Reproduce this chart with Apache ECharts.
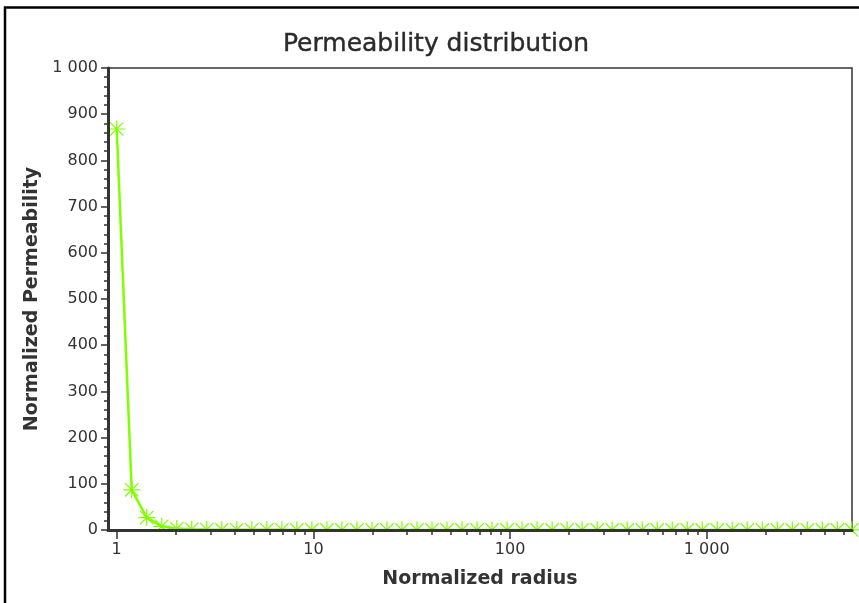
<!DOCTYPE html>
<html>
<head>
<meta charset="utf-8">
<script src="https://cdn.jsdelivr.net/npm/echarts@6/dist/echarts.min.js"></script>
<style>
html,body{margin:0;padding:0;background:#fff;}
#chart{width:859px;height:603px;}
</style>
</head>
<body>
<div id="chart"></div>
<script>
// ---- data ----
const radius = [1, 1.192, 1.421, 1.694, 2.02, 2.408, 2.87, 3.422, 4.079, 4.863,
  5.799, 6.913, 8.24, 9.827, 11.71, 13.97, 16.65, 19.86, 23.66, 28.21,
  33.64, 40.11, 47.8, 57.0, 67.95, 81.0, 96.6, 115.1, 137.3, 163.7,
  195.1, 232.6, 277.4, 330.6, 394.2, 469.9, 560.1, 667.8, 796.0, 949.0,
  1131, 1349, 1608, 1917, 2286, 2725, 3248, 3873, 4617, 5460];
const permeability = [868, 87, 27, 8, 3, 1.5, 1, 0.7, 0.5, 0.4,
  0.3, 0.3, 0.2, 0.2, 0.2, 0.1, 0.1, 0.1, 0.1, 0.1,
  0.1, 0.1, 0.1, 0.1, 0.1, 0.1, 0.1, 0.1, 0.1, 0.1,
  0.1, 0.1, 0.1, 0.1, 0.1, 0.1, 0.1, 0.1, 0.1, 0.1,
  0.1, 0.1, 0.1, 0.1, 0.1, 0.1, 0.1, 0.1, 0.1, 0.1];
const xMajorTicks = [1, 10, 100, 1000];
const xMinorTicks = [2,3,4,5,6,7,8,9,20,30,40,50,60,70,80,90,200,300,400,500,600,700,800,900,2000,3000,4000,5000];
const titleText = 'Permeability distribution';
const xName = 'Normalized radius';
const yName = 'Normalized Permeability';

const fmt = v => (v >= 1000 ? String(v).replace(/\B(?=(\d{3})+(?!\d))/g, ' ') : String(v));
const green = '#7fff00';
const asterisk = 'path://M7,0L7,14M0,7L14,7M1.5,1.5L12.5,12.5M12.5,1.5L1.5,12.5';

const chart = echarts.init(document.getElementById('chart'), null, {renderer: 'canvas'});
const xMin = 0.903, xMax = 5480;
chart.setOption({
  animation: false,
  backgroundColor: '#fff',
  title: {
    text: titleText, left: 431, top: 27, textAlign: 'center',
    textStyle: {fontFamily: 'DejaVu Sans', fontSize: 25, fontWeight: 'normal', color: '#2a2a2a', textBorderColor: '#2a2a2a', textBorderWidth: 0.4}
  },
  grid: {left: 108, right: 7, top: 68, bottom: 73, show: true, borderColor: '#333', borderWidth: 1.5, backgroundColor: 'transparent'},
  xAxis: [{
    type: 'log', min: xMin, max: xMax, z: 5,
    name: xName, nameLocation: 'middle', nameGap: 40,
    nameTextStyle: {fontFamily: 'DejaVu Sans', fontSize: 19, fontWeight: 'bold', color: '#333'},
    axisLine: {show: true, lineStyle: {color: '#333', width: 3}},
    axisTick: {show: true, length: 9, customValues: xMajorTicks, lineStyle: {color: '#333', width: 1.5}},
    axisLabel: {customValues: xMajorTicks, formatter: fmt, margin: 12, fontFamily: 'DejaVu Sans', fontSize: 16, color: '#333'},
    splitLine: {show: false}, minorTick: {show: false}
  }, {
    type: 'log', min: xMin, max: xMax, position: 'bottom', z: 5,
    axisLine: {show: false},
    axisTick: {show: true, length: 5, customValues: xMinorTicks, lineStyle: {color: '#333', width: 1.5}},
    axisLabel: {show: false}, splitLine: {show: false}
  }],
  yAxis: {
    type: 'value', min: 0, max: 1000, interval: 100, z: 5,
    name: yName, nameLocation: 'middle', nameGap: 66, nameRotate: 90,
    nameTextStyle: {fontFamily: 'DejaVu Sans', fontSize: 19, fontWeight: 'bold', color: '#333'},
    axisLine: {show: true, lineStyle: {color: '#333', width: 3}},
    axisTick: {show: true, length: 7, lineStyle: {color: '#333', width: 1.5}},
    minorTick: {show: true, splitNumber: 5, length: 4, lineStyle: {color: '#333', width: 1.5}},
    axisLabel: {formatter: fmt, margin: 10, fontFamily: 'DejaVu Sans', fontSize: 16, color: '#333'},
    splitLine: {show: false}
  },
  graphic: [
    {type: 'rect', z: 100, silent: true, shape: {x: 5, y: 7.5, width: 900, height: 700}, style: {fill: 'none', stroke: '#000', lineWidth: 2.5}},
    {type: 'rect', z: 3, silent: true, shape: {x: 108, y: 531.5, width: 745, height: 10}, style: {fill: '#fff'}}
  ],
  series: [{
    type: 'line', z: 2, xAxisIndex: 0,
    data: radius.map((r, i) => [r, permeability[i]]),
    symbol: asterisk, symbolSize: 17, showAllSymbol: true,
    clip: false,
    lineStyle: {color: green, width: 2.5},
    itemStyle: {color: green, borderColor: green, borderWidth: 1.2}
  }]
});
</script>
</body>
</html>
